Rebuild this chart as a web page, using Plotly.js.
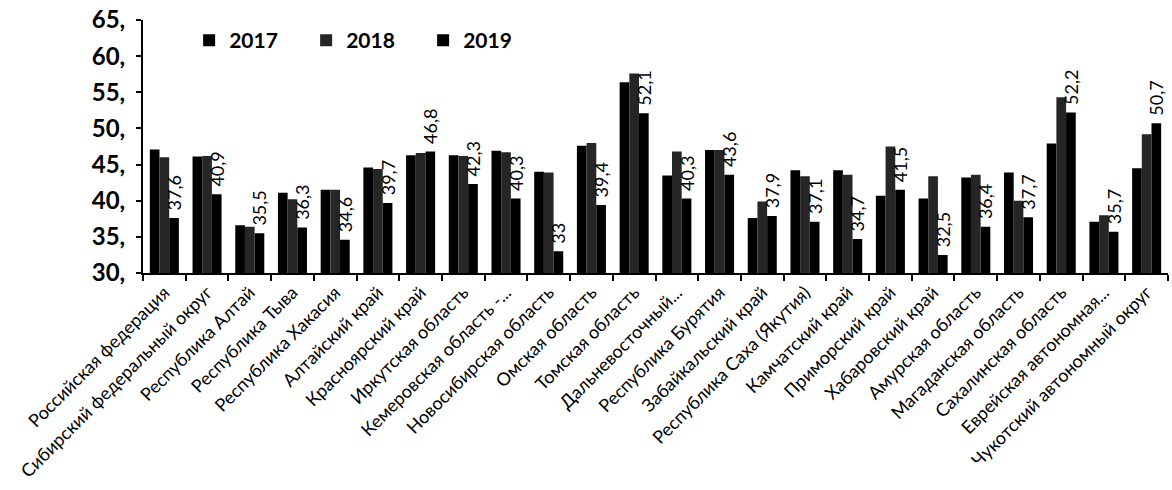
<!DOCTYPE html>
<html>
<head>
<meta charset="utf-8">
<script src="https://cdn.plot.ly/plotly-3.0.1.min.js"></script>
<style>html,body{margin:0;padding:0;background:#fff;}#chart{width:1172px;height:490px;}</style>
</head>
<body>
<div id="chart"></div>
<script>
const categories = [
  "Российская федерация", "Сибирский федеральный округ", "Республика Алтай", "Республика Тыва",
  "Республика Хакасия", "Алтайский край", "Красноярский край", "Иркутская область",
  "Кемеровская область -...", "Новосибирская область", "Омская область", "Томская область",
  "Дальневосточный...", "Республика Бурятия", "Забайкальский край", "Республика Саха (Якутия)",
  "Камчатский край", "Приморский край", "Хабаровский край", "Амурская область",
  "Магаданская область", "Сахалинская область", "Еврейская автономная...", "Чукотский автономный округ"
];
const series2017 = [47.1, 46.1, 36.6, 41.1, 41.5, 44.6, 46.3, 46.3, 46.9, 44.0, 47.6, 56.4, 43.5, 47.0, 37.6, 44.2, 44.2, 40.7, 40.3, 43.2, 43.9, 47.9, 37.1, 44.5];
const series2018 = [46.0, 46.2, 36.4, 40.2, 41.5, 44.4, 46.6, 46.2, 46.7, 43.9, 48.0, 57.6, 46.8, 47.0, 39.9, 43.4, 43.6, 47.5, 43.4, 43.6, 40.0, 54.3, 38.0, 49.2];
const series2019 = [37.6, 40.9, 35.5, 36.3, 34.6, 39.7, 46.8, 42.3, 40.3, 33, 39.4, 52.1, 40.3, 43.6, 37.9, 37.1, 34.7, 41.5, 32.5, 36.4, 37.7, 52.2, 35.7, 50.7];
const yTickVals = [30, 35, 40, 45, 50, 55, 60, 65];
const yTickText = ["30,", "35,", "40,", "45,", "50,", "55,", "60,", "65,"];

const labels2019 = series2019.map(v => '\u00a0' + String(v).replace('.', ','));
const fontFam = "Lato, 'Open Sans', sans-serif";

const traces = [
  {type: 'bar', name: '2017', x: categories, y: series2017,
   marker: {color: '#000000', line: {width: 0}}},
  {type: 'bar', name: '2018', x: categories, y: series2018,
   marker: {color: '#262626', line: {width: 0}}},
  {type: 'bar', name: '2019', x: categories, y: series2019,
   marker: {color: '#000000', line: {width: 0}},
   text: labels2019, textposition: 'outside', textangle: -90, constraintext: 'none',
   textfont: {family: fontFam, size: 18, color: '#000'}, cliponaxis: false}
];

const layout = {
  width: 1172, height: 490,
  margin: {l: 143, r: 4, t: 20, b: 217},
  paper_bgcolor: '#fff', plot_bgcolor: '#fff',
  barmode: 'group', bargap: 0.32, bargroupgap: 0,
  showlegend: true,
  legend: {orientation: 'h', x: 0.045, y: 1.0, xanchor: 'left', yanchor: 'top',
           entrywidth: 72, entrywidthmode: 'pixels',
           font: {family: fontFam, size: 21, color: '#000', weight: 'bold'},
           bgcolor: 'rgba(0,0,0,0)'},
  xaxis: {type: 'category', tickangle: -45, automargin: false,
          showline: true, linecolor: '#000', linewidth: 2,
          ticks: 'outside', tickson: 'boundaries', ticklen: 6, tickwidth: 2, tickcolor: '#000',
          tickfont: {family: fontFam, size: 18, color: '#000'}, showgrid: false},
  yaxis: {range: [30, 65], tickvals: yTickVals, ticktext: yTickText, automargin: false,
          showline: true, linecolor: '#000', linewidth: 2,
          ticks: 'outside', ticklen: 5, tickwidth: 2, tickcolor: '#000', ticklabelstandoff: 6,
          tickfont: {family: fontFam, size: 24, color: '#000', weight: 'bold'},
          showgrid: false, zeroline: false}
};

Plotly.newPlot('chart', traces, layout, {displayModeBar: false, staticPlot: true});
</script>
</body>
</html>
